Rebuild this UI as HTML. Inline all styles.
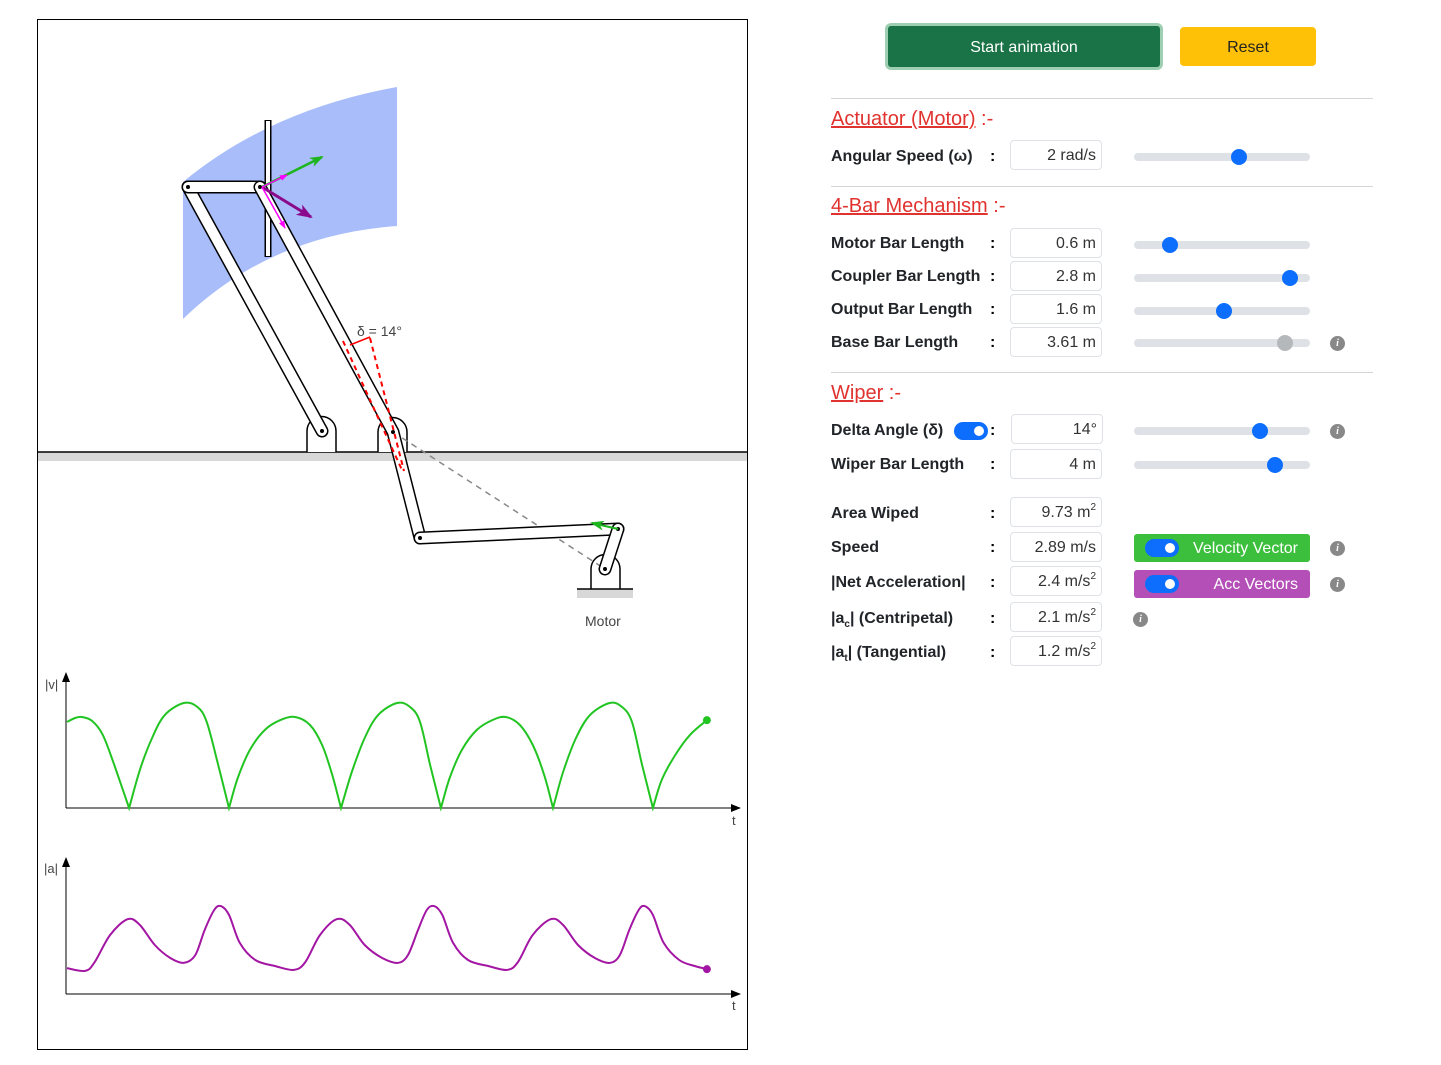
<!DOCTYPE html>
<html><head><meta charset="utf-8">
<style>
body{margin:0;width:1441px;height:1065px;background:#fff;position:relative;font-family:"Liberation Sans",sans-serif;overflow:hidden}
.abs{position:absolute}
.lbl{position:absolute;left:831px;font-weight:bold;font-size:16px;color:#212529;line-height:20px}
.colon{position:absolute;left:990px;font-weight:bold;font-size:16px;line-height:20px}
.inp{position:absolute;left:1010px;width:92px;height:30px;border:1px solid #dee2e6;border-radius:4px;box-sizing:border-box;text-align:right;padding-right:5px;font-size:16px;line-height:30px;color:#333}
.track{position:absolute;left:1134px;width:176px;height:8px;background:#dee2e6;border-radius:4px}
.thumb{position:absolute;width:16px;height:16px;border-radius:50%;background:#0d6efd;top:-4px}
.info{position:absolute;width:15px;height:15px;border-radius:50%;background:#888;color:#fff;font-size:10px;font-style:italic;text-align:center;line-height:15px;font-family:"Liberation Serif",serif;font-weight:bold}
.hd{position:absolute;left:831px;font-size:20px;color:#e0322f;line-height:24px}
.hd u{text-decoration:underline}
.sep{position:absolute;left:831px;width:542px;height:1px;background:#d4d4d4}
.tog{position:absolute;width:34px;height:18px;border-radius:9px;background:#0d6efd}
.tog:after{content:"";position:absolute;right:4px;top:4px;width:10px;height:10px;border-radius:50%;background:#fff}
sup{font-size:10px;line-height:0;vertical-align:7px}
sub{font-size:10px;line-height:0;vertical-align:-4px}
</style></head><body>
<svg class="abs" style="left:0;top:0" width="760" height="1065">
<rect x="37.5" y="19.5" width="710" height="1030" fill="#fff" stroke="#000"/>
<path d="M183,182 Q270,110 397,87 L397,226 Q270,235 183,319 Z" fill="#a8bdfa"/>
<rect x="38" y="452" width="709" height="9" fill="#d8d8d8"/>
<line x1="38" y1="452" x2="747" y2="452" stroke="#000" stroke-width="1.5"/>
<g fill="#fff" stroke="#000" stroke-width="1.5">
<path d="M307,452 L307,431 A14.5,14.5 0 0 1 336,431 L336,452"/>
<path d="M378,452 L378,432 A14.5,14.5 0 0 1 407,432 L407,452"/>
<path d="M591,589 L591,569 A14.5,14.5 0 0 1 620,569 L620,589"/>
</g>
<rect x="577" y="589" width="56" height="9" fill="#d8d8d8"/>
<line x1="577" y1="589" x2="633" y2="589" stroke="#000" stroke-width="1.5"/>
<line x1="393" y1="432" x2="605" y2="569" stroke="#888" stroke-width="1.5" stroke-dasharray="6,5"/>
<g stroke-linecap="round">
<g><line x1="268" y1="120" x2="268" y2="257" stroke="#000" stroke-width="7" stroke-linecap="butt"/><line x1="268" y1="121" x2="268" y2="256" stroke="#fff" stroke-width="4" stroke-linecap="butt"/></g>
<g><line x1="188" y1="187" x2="322" y2="431" stroke="#000" stroke-width="13"/><line x1="188" y1="187" x2="322" y2="431" stroke="#fff" stroke-width="10"/></g>
<g><line x1="188" y1="187" x2="260" y2="187" stroke="#000" stroke-width="13"/><line x1="188" y1="187" x2="260" y2="187" stroke="#fff" stroke-width="10"/></g>
<g><polyline points="260,187 393,432 420,538" fill="none" stroke="#000" stroke-width="13" stroke-linejoin="round"/><polyline points="260,187 393,432 420,538" fill="none" stroke="#fff" stroke-width="10" stroke-linejoin="round"/></g>
<g><line x1="420" y1="538" x2="618" y2="529" stroke="#000" stroke-width="13"/><line x1="420" y1="538" x2="618" y2="529" stroke="#fff" stroke-width="10"/></g>
<g><line x1="618" y1="529" x2="605" y2="569" stroke="#000" stroke-width="13"/><line x1="618" y1="529" x2="605" y2="569" stroke="#fff" stroke-width="10"/></g>
</g>
<g fill="#000"><circle cx="188" cy="187" r="2"/><circle cx="260" cy="187" r="2"/><circle cx="322" cy="431" r="2"/><circle cx="393" cy="432" r="2"/><circle cx="420" cy="538" r="2"/><circle cx="618" cy="529" r="2"/><circle cx="605" cy="569" r="2"/></g>
<g stroke="#f00" stroke-width="2" stroke-dasharray="5,4" fill="none">
<line x1="343" y1="341" x2="402" y2="470"/><line x1="370" y1="338" x2="404" y2="471"/></g>
<line x1="370" y1="337" x2="350" y2="345" stroke="#f00" stroke-width="1.5"/>
<text x="357" y="336" font-size="14" fill="#444">δ = 14°</text>
<defs>
<marker id="ag" markerUnits="userSpaceOnUse" markerWidth="14" markerHeight="10" refX="12" refY="5" orient="auto"><path d="M0,0 L14,5 L0,10 L4,5Z" fill="#1db51d"/></marker>
<marker id="ap" markerUnits="userSpaceOnUse" markerWidth="16" markerHeight="12" refX="14" refY="6" orient="auto"><path d="M0,0 L16,6 L0,12 L4,6Z" fill="#8b0a8b"/></marker>
<marker id="am" markerUnits="userSpaceOnUse" markerWidth="8" markerHeight="6" refX="7" refY="3" orient="auto"><path d="M0,0 L8,3 L0,6Z" fill="#f0f"/></marker>
<marker id="ar" markerUnits="userSpaceOnUse" markerWidth="10" markerHeight="8" refX="9" refY="4" orient="auto"><path d="M0,0 L10,4 L0,8Z" fill="#000"/></marker>
</defs>
<line x1="262" y1="187" x2="322" y2="157" stroke="#1db51d" stroke-width="2.5" marker-end="url(#ag)"/>
<line x1="262" y1="187" x2="311" y2="217" stroke="#8b0a8b" stroke-width="3" marker-end="url(#ap)"/>
<line x1="262" y1="187" x2="285" y2="228" stroke="#f0f" stroke-width="1.5" marker-end="url(#am)"/>
<line x1="262" y1="187" x2="287" y2="175" stroke="#f0f" stroke-width="1.5" marker-end="url(#am)"/>
<line x1="618" y1="529" x2="592" y2="523" stroke="#1db51d" stroke-width="2" marker-end="url(#ag)"/>
<text x="585" y="626" font-size="14" fill="#444">Motor</text>
<g>
<line x1="66" y1="808" x2="740" y2="808" stroke="#000" marker-end="url(#ar)"/>
<line x1="66" y1="808" x2="66" y2="673" stroke="#000" marker-end="url(#ar)"/>
<text x="45" y="689" font-size="13" fill="#444">|v|</text>
<text x="732" y="825" font-size="13" fill="#444">t</text>
<path id="vpath" fill="none" stroke="#22c422" stroke-width="2"/>
<circle id="vdot" r="4" fill="#22c422"/>
</g>
<g>
<line x1="66" y1="994" x2="740" y2="994" stroke="#000" marker-end="url(#ar)"/>
<line x1="66" y1="994" x2="66" y2="858" stroke="#000" marker-end="url(#ar)"/>
<text x="44" y="873" font-size="13" fill="#444">|a|</text>
<text x="732" y="1010" font-size="13" fill="#444">t</text>
<path id="apath" fill="none" stroke="#a316a3" stroke-width="2"/>
<circle id="adot" r="4" fill="#a316a3"/>
</g>
</svg>

<div class="abs" style="left:885px;top:23px;width:278px;height:47px;box-sizing:border-box;border:3px solid #9fcfb2;border-radius:6px;background:#1a7346;color:#fff;font-size:16px;text-align:center;line-height:43px">Start animation</div>
<div class="abs" style="left:1180px;top:27px;width:136px;height:39px;border-radius:4px;background:#ffc107;color:#222;font-size:16px;text-align:center;line-height:42px">Reset</div>

<div class="sep" style="top:98px"></div>
<div class="hd" style="top:107px"><u>Actuator (Motor)</u> :-</div>
<div class="lbl" style="top:147px">Angular Speed (ω)</div><div class="colon" style="top:147px">:</div>
<div class="inp" style="top:140px">2 rad/s</div>
<div class="track" style="top:153px"><div class="thumb" style="left:97px"></div></div>

<div class="sep" style="top:186px"></div>
<div class="hd" style="top:194px"><u>4-Bar Mechanism</u> :-</div>
<div class="lbl" style="top:234px">Motor Bar Length</div><div class="colon" style="top:234px">:</div>
<div class="inp" style="top:228px">0.6 m</div>
<div class="track" style="top:241px"><div class="thumb" style="left:28px"></div></div>
<div class="lbl" style="top:267px">Coupler Bar Length</div><div class="colon" style="top:267px">:</div>
<div class="inp" style="top:261px">2.8 m</div>
<div class="track" style="top:274px"><div class="thumb" style="left:148px"></div></div>
<div class="lbl" style="top:300px">Output Bar Length</div><div class="colon" style="top:300px">:</div>
<div class="inp" style="top:294px">1.6 m</div>
<div class="track" style="top:307px"><div class="thumb" style="left:82px"></div></div>
<div class="lbl" style="top:333px">Base Bar Length</div><div class="colon" style="top:333px">:</div>
<div class="inp" style="top:327px">3.61 m</div>
<div class="track" style="top:339px"><div class="thumb" style="left:143px;background:#b5b8bb"></div></div>
<div class="info" style="left:1330px;top:336px">i</div>

<div class="sep" style="top:372px"></div>
<div class="hd" style="top:381px"><u>Wiper</u> :-</div>
<div class="lbl" style="top:421px">Delta Angle (δ)</div><div class="tog" style="left:954px;top:422px"></div><div class="colon" style="top:421px">:</div>
<div class="inp" style="top:414px;left:1011px">14°</div>
<div class="track" style="top:427px"><div class="thumb" style="left:118px"></div></div>
<div class="info" style="left:1330px;top:424px">i</div>
<div class="lbl" style="top:455px">Wiper Bar Length</div><div class="colon" style="top:455px">:</div>
<div class="inp" style="top:449px">4 m</div>
<div class="track" style="top:461px"><div class="thumb" style="left:133px"></div></div>

<div class="lbl" style="top:504px">Area Wiped</div><div class="colon" style="top:504px">:</div>
<div class="inp" style="top:497px">9.73 m<sup>2</sup></div>
<div class="lbl" style="top:538px">Speed</div><div class="colon" style="top:538px">:</div>
<div class="inp" style="top:532px">2.89 m/s</div>
<div class="abs" style="left:1134px;top:534px;width:176px;height:28px;background:#3cbf3c;border-radius:3px;color:#fff;font-size:16px;line-height:30px;text-align:right;box-sizing:border-box;padding-right:12px">Velocity Vector<div class="tog" style="left:11px;top:5px"></div></div>
<div class="info" style="left:1330px;top:541px">i</div>
<div class="lbl" style="top:573px">|Net Acceleration|</div><div class="colon" style="top:573px">:</div>
<div class="inp" style="top:566px">2.4 m/s<sup>2</sup></div>
<div class="abs" style="left:1134px;top:570px;width:176px;height:28px;background:#b44fb8;border-radius:3px;color:#fff;font-size:16px;line-height:30px;text-align:right;box-sizing:border-box;padding-right:12px">Acc Vectors<div class="tog" style="left:11px;top:5px"></div></div>
<div class="info" style="left:1330px;top:577px">i</div>
<div class="lbl" style="top:609px">|a<sub>c</sub>| (Centripetal)</div><div class="colon" style="top:609px">:</div>
<div class="inp" style="top:602px">2.1 m/s<sup>2</sup></div>
<div class="info" style="left:1133px;top:612px">i</div>
<div class="lbl" style="top:643px">|a<sub>t</sub>| (Tangential)</div><div class="colon" style="top:643px">:</div>
<div class="inp" style="top:636px">1.2 m/s<sup>2</sup></div>

<script>
const vTimes=[0,.12,.22,.37,.53,.70,.92,1.08,1.26,1.45,1.73,1.93,2.07,2.24,2.40,2.53,2.71,2.93,3.16,3.38,3.60,3.78,3.93,4.06,4.22,4.41,4.61,4.89,5.08,5.23,5.38,5.54,5.67,5.85,6.07,6.30,6.50,6.71,6.90,7.07,7.20,7.35,7.54,7.75,8.04,8.22,8.37,8.52,8.68,8.81,9.01,9.23,9.48];
const vValues=[2.46,2.57,2.60,2.49,2.09,1.23,0,1.09,2.00,2.66,3.00,2.89,2.46,1.23,0,0.86,1.66,2.23,2.51,2.60,2.37,1.80,0.94,0,1.03,2.00,2.66,3.00,2.89,2.46,1.23,0,0.86,1.66,2.23,2.51,2.60,2.37,1.80,0.94,0,1.03,2.00,2.66,3.00,2.89,2.46,1.23,0,0.80,1.51,2.09,2.51];
const aTimes=[0,.27,.41,.64,.90,1.08,1.30,1.53,1.73,1.90,2.04,2.18,2.28,2.40,2.56,2.79,3.08,3.36,3.53,3.75,4.00,4.19,4.41,4.67,4.90,5.05,5.20,5.33,5.44,5.56,5.72,5.94,6.24,6.52,6.68,6.90,7.17,7.35,7.57,7.82,8.04,8.19,8.33,8.47,8.56,8.68,8.84,9.07,9.30,9.48];
const aValues=[.74,.66,.91,1.69,2.14,1.97,1.40,1.03,.89,1.11,1.83,2.40,2.51,2.26,1.46,.97,.80,.69,.91,1.69,2.14,1.97,1.40,1.03,.89,1.11,1.83,2.40,2.51,2.26,1.46,.97,.80,.69,.91,1.69,2.14,1.97,1.40,1.03,.89,1.11,1.83,2.40,2.51,2.26,1.46,.97,.80,.71];
const X0=67, PXT=67.5, PXV=35;
function xs(t){return X0+t*PXT;}
function yv(v){return 808-v*PXV;}
function ya(a){return 994-a*PXV;}
function smooth(pts,base){
  let d='M'+pts[0][0].toFixed(1)+','+pts[0][1].toFixed(1);
  const onBase=p=>p[1]>=base-0.01;
  for(let i=0;i<pts.length-1;i++){
    const p0=pts[Math.max(0,i-1)],p1=pts[i],p2=pts[i+1],p3=pts[Math.min(pts.length-1,i+2)];
    let c1x=p1[0]+(p2[0]-p0[0])/6, c1y=p1[1]+(p2[1]-p0[1])/6;
    let c2x=p2[0]-(p3[0]-p1[0])/6, c2y=p2[1]-(p3[1]-p1[1])/6;
    if(onBase(p1)){c1x=p1[0]+(p2[0]-p1[0])/3;c1y=p1[1]+(p2[1]-p1[1])/3;}
    if(onBase(p2)){c2x=p2[0]+(p1[0]-p2[0])/3;c2y=p2[1]+(p1[1]-p2[1])/3;}
    c1y=Math.min(c1y,base);c2y=Math.min(c2y,base);
    d+=' C'+c1x.toFixed(1)+','+c1y.toFixed(1)+' '+c2x.toFixed(1)+','+c2y.toFixed(1)+' '+p2[0].toFixed(1)+','+p2[1].toFixed(1);
  }
  return d;
}
const vp=vTimes.map((t,i)=>[xs(t),yv(vValues[i])]);
const ap=aTimes.map((t,i)=>[xs(t),ya(aValues[i])]);
document.getElementById('vpath').setAttribute('d',smooth(vp,808));
document.getElementById('apath').setAttribute('d',smooth(ap,994));
const vd=document.getElementById('vdot');vd.setAttribute('cx',vp[vp.length-1][0]);vd.setAttribute('cy',vp[vp.length-1][1]);
const ad=document.getElementById('adot');ad.setAttribute('cx',ap[ap.length-1][0]);ad.setAttribute('cy',ap[ap.length-1][1]);
</script>
</body></html>
